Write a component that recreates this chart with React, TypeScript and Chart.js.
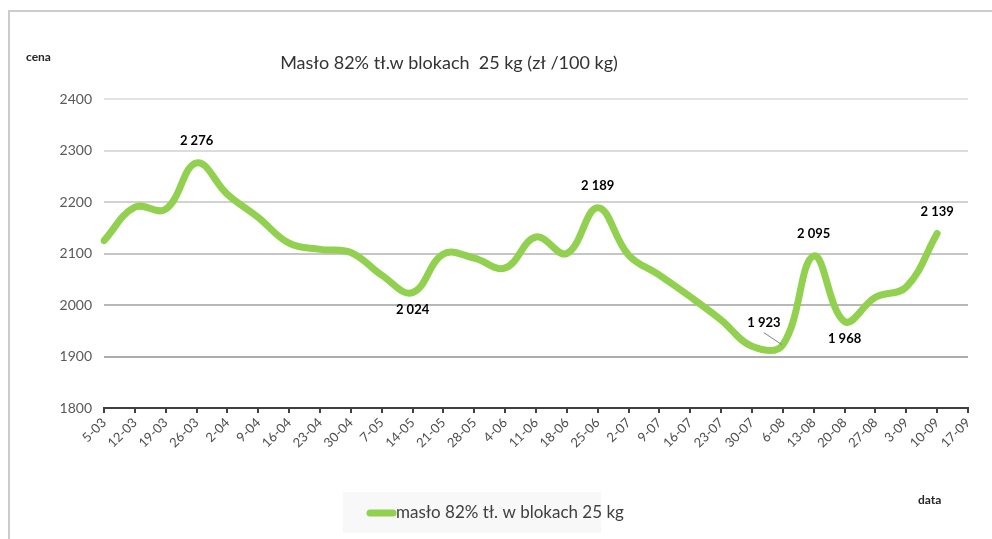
import React, { useEffect, useRef } from "react";
import { Chart, registerables } from "chart.js";

Chart.register(...registerables);

const categories = [
  "5-03", "12-03", "19-03", "26-03", "2-04", "9-04", "16-04", "23-04", "30-04",
  "7-05", "14-05", "21-05", "28-05", "4-06", "11-06", "18-06", "25-06", "2-07",
  "9-07", "16-07", "23-07", "30-07", "6-08", "13-08", "20-08", "27-08", "3-09",
  "10-09", "17-09",
];

const butterPrices = [
  2125, 2190, 2186, 2276, 2215, 2170, 2120, 2108, 2102, 2058, 2024, 2099, 2091,
  2072, 2132, 2100, 2189, 2097, 2058, 2016, 1971, 1920, 1923, 2095, 1968, 2015,
  2035, 2139,
];

const yTicks = [1800, 1900, 2000, 2100, 2200, 2300, 2400];

const seriesLabel = "masło 82% tł. w blokach 25 kg";
const chartTitle = "Masło 82% tł.w blokach  25 kg (zł /100 kg)";
const yAxisTitle = "cena";
const xAxisTitle = "data";

// indices of points that carry a value label
const labeledPoints = [3, 10, 16, 22, 23, 24, 27];

const GREEN = "#92d050";
const FONT = "Lato, 'Open Sans', sans-serif";

function fmt(v: number) {
  const s = String(Math.round(v));
  return s.replace(/\B(?=(\d{3})+(?!\d))/g, " ");
}

export default function App() {
  const ref = useRef<HTMLCanvasElement | null>(null);

  useEffect(() => {
    if (!ref.current) return;

    const decor = {
      id: "decor",
      afterDraw(chart: any) {
        const ctx = chart.ctx as CanvasRenderingContext2D;
        const xs = chart.scales.x;
        const ys = chart.scales.y;
        ctx.save();
        // frame
        ctx.strokeStyle = "#cccccc";
        ctx.lineWidth = 2;
        ctx.beginPath();
        ctx.moveTo(9, 539);
        ctx.lineTo(9, 11);
        ctx.lineTo(992, 11);
        ctx.stroke();

        // title
        ctx.fillStyle = "#333333";
        ctx.font = `18px ${FONT}`;
        ctx.textAlign = "center";
        ctx.textBaseline = "middle";
        ctx.fillText(chartTitle, 449, 63);

        // axis titles
        ctx.font = `bold 12px ${FONT}`;
        ctx.fillStyle = "#262626";
        ctx.textAlign = "left";
        ctx.fillText(yAxisTitle, 26, 57);
        ctx.fillText(xAxisTitle, 918, 500);

        // legend box
        ctx.fillStyle = "#f8f8f8";
        ctx.fillRect(343, 492, 258, 41);
        ctx.strokeStyle = GREEN;
        ctx.lineWidth = 7;
        ctx.lineCap = "round";
        ctx.beginPath();
        ctx.moveTo(370, 513);
        ctx.lineTo(393, 513);
        ctx.stroke();
        ctx.fillStyle = "#404040";
        ctx.font = `17px ${FONT}`;
        ctx.textBaseline = "middle";
        ctx.fillText(chart.data.datasets[0].label, 396, 513);

        // data labels
        ctx.font = `bold 13px ${FONT}`;
        ctx.fillStyle = "#000000";
        ctx.textAlign = "center";
        const data = chart.data.datasets[0].data as number[];
        labeledPoints.forEach((i) => {
          const v = data[i];
          const px = xs.getPixelForValue(i);
          const py = ys.getPixelForValue(v);
          const below = i === 10 || i === 24;
          if (i === 22) {
            ctx.fillText(fmt(v), px - 19, py - 22);
            ctx.strokeStyle = "#808080";
            ctx.lineWidth = 1;
            ctx.lineCap = "butt";
            ctx.beginPath();
            ctx.moveTo(px - 19, py - 12);
            ctx.lineTo(px - 1, py);
            ctx.stroke();
          } else if (below) {
            ctx.fillText(fmt(v), px, py + 17);
          } else {
            ctx.fillText(fmt(v), px, py - 22);
          }
        });
        ctx.restore();
      },
    };

    const gridShades: Record<number, string> = {
      2400: "#e4e4e4",
      2300: "#dcdcdc",
      2200: "#d2d2d2",
      2100: "#c6c6c6",
      2000: "#b8b8b8",
      1900: "#acacac",
      1800: "rgba(0,0,0,0)",
    };

    const chart = new Chart(ref.current, {
      type: "line",
      data: {
        labels: categories,
        datasets: [
          {
            label: seriesLabel,
            data: butterPrices,
            borderColor: GREEN,
            backgroundColor: GREEN,
            borderWidth: 7,
            borderCapStyle: "round",
            borderJoinStyle: "round",
            pointRadius: 0,
            pointHoverRadius: 0,
            tension: 0.4,
            fill: false,
          },
        ],
      },
      options: {
        animation: false,
        responsive: true,
        maintainAspectRatio: false,
        events: [],
        layout: { padding: { left: 8, top: 99, right: 24, bottom: 71 } },
        plugins: {
          legend: { display: false },
          title: { display: false },
          tooltip: { enabled: false },
        },
        scales: {
          x: {
            type: "category",
            offset: false,
            afterFit: (s: any) => {
              s.height = 60;
            },
            grid: {
              drawOnChartArea: false,
              drawTicks: true,
              tickLength: 5,
              color: "#404040",
              lineWidth: 2,
            },
            border: { display: true, color: "#404040", width: 2 },
            ticks: {
              autoSkip: false,
              maxRotation: 45,
              minRotation: 45,
              padding: 2,
              color: "#4d4d4d",
              font: { family: FONT, size: 13 },
            },
          },
          y: {
            min: 1800,
            max: 2400,
            afterFit: (s: any) => {
              s.width = 96;
            },
            afterBuildTicks: (s: any) => {
              s.ticks = yTicks.map((v) => ({ value: v }));
            },
            grid: {
              drawTicks: false,
              lineWidth: 2,
              color: (c: any) => gridShades[c.tick?.value] ?? "#cccccc",
            },
            border: { display: false },
            ticks: {
              padding: 12,
              color: "#595959",
              font: { family: FONT, size: 14 },
              callback: (v: any) => String(v),
            },
          },
        },
      },
      plugins: [decor],
    });

    return () => chart.destroy();
  }, []);

  return (
    <div
      style={{
        position: "fixed",
        left: 0,
        top: 0,
        width: 992,
        height: 539,
        background: "#ffffff",
      }}
    >
      <canvas ref={ref} />
    </div>
  );
}
